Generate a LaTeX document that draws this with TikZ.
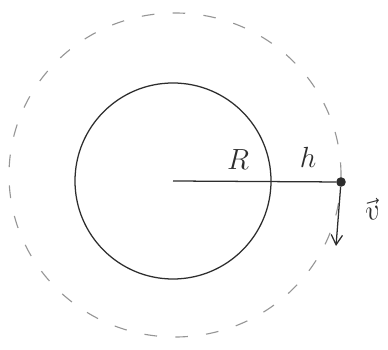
\documentclass[tikz,border=0pt]{standalone}
\usepackage{amsmath}
\usepackage{tikz}
\usetikzlibrary{arrows.meta,positioning,calc}
\definecolor{pencil}{RGB}{45,45,45}
\definecolor{faint}{RGB}{150,150,150}

\begin{document}
\begin{tikzpicture}[
line/.style={draw=pencil, line width=0.9pt},
orbit/.style={draw=faint, line width=0.8pt, dash pattern=on 9pt off 13pt},
satellite/.style={circle, fill=pencil, inner sep=0pt, minimum size=0.24cm},
vel/.style={-{Straight Barb[length=7pt,width=8pt]}, draw=pencil, line width=0.9pt},
lbl/.style={text=pencil, font=\huge}
]
\useasboundingbox (0,0) rectangle (9.7,8.75);
% planet and orbit
\coordinate (centre) at (4.325,4.225);
\draw[line] (centre) circle (2.45cm);
\draw[orbit] (4.375,4.375) ellipse (4.15cm and 4.05cm);
% satellite on the orbit
\node[satellite] (sat) at (8.525,4.2) {};
\coordinate (vtip) at (8.4,2.6);
\draw[line] (centre) -- (sat);
\draw[vel] (sat) -- (vtip);
% labels
\node[lbl] (rlabel) at (5.95,4.75) {$R$};
\node[lbl] (hlabel) at (7.7,4.82) {$h$};
\node[lbl, rotate=15] (vlabel) at (9.3,3.5) {$\vec{v}$};
\end{tikzpicture}
\end{document}
